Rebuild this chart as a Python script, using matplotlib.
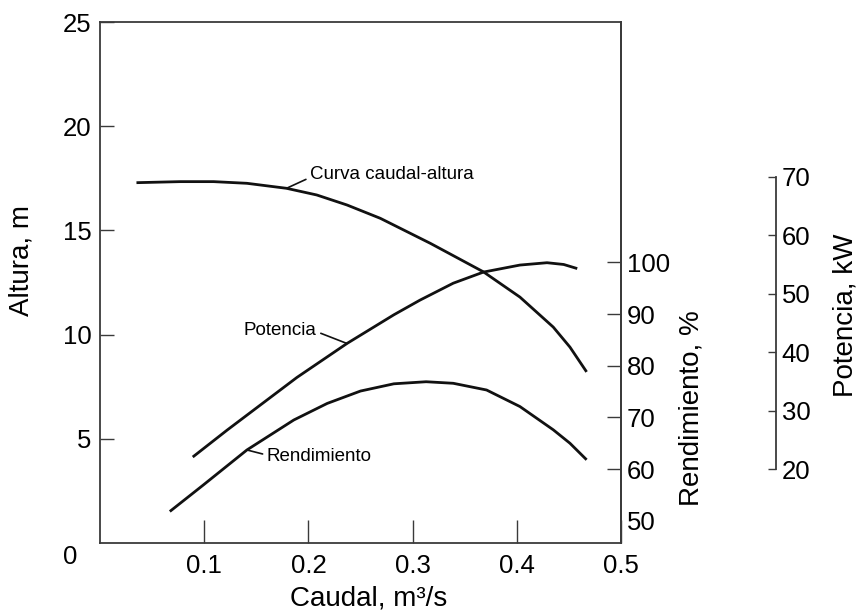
import numpy as np
from matplotlib import pyplot as plt

plt.rcParams['font.family'] = ['Liberation Sans', 'DejaVu Sans']

# Caudal (m3/s) vs altura (m)
q_head = [0.035, 0.077, 0.109, 0.141, 0.179, 0.208, 0.237, 0.269, 0.301, 0.317,
          0.336, 0.368, 0.403, 0.435, 0.451, 0.467]
h_head = [17.29, 17.34, 17.34, 17.26, 17.02, 16.70, 16.22, 15.58, 14.78, 14.38,
          13.87, 13.01, 11.80, 10.36, 9.40, 8.21]

# Caudal vs potencia (kW)
q_pot = [0.089, 0.122, 0.154, 0.189, 0.237, 0.282, 0.307, 0.339, 0.368, 0.403,
         0.429, 0.445, 0.458]
p_pot = [22.1, 26.7, 31.0, 35.7, 41.5, 46.4, 48.9, 51.8, 53.7, 54.9,
         55.3, 55.0, 54.3]

# Caudal vs rendimiento (%)
q_eff = [0.067, 0.099, 0.141, 0.186, 0.218, 0.250, 0.282, 0.313, 0.339, 0.371,
         0.403, 0.435, 0.451, 0.467]
e_eff = [51.8, 56.9, 63.7, 69.5, 72.7, 75.1, 76.5, 76.9, 76.6, 75.3,
         72.1, 67.6, 65.0, 61.8]

x_ticks = [0.1, 0.2, 0.3, 0.4, 0.5]
h_ticks = [5, 10, 15, 20, 25]
e_ticks = [50, 60, 70, 80, 90, 100]
p_ticks = [20, 30, 40, 50, 60, 70]

spine_col = '#3a3a3a'
line_col = '#111111'
tick_fs = 18.5
label_fs = 20
note_fs = 13.5

fig = plt.figure(figsize=(8.59, 6.12), dpi=100)
ax = fig.add_axes([100 / 859, 69 / 612, 521 / 859, 521 / 612])

ax.plot(q_head, h_head, color=line_col, lw=2.0, solid_capstyle='butt')
ax.set_xlim(0, 0.5)
ax.set_ylim(0, 25)
ax.set_xticks(x_ticks)
ax.set_xticklabels(['0.1', '0.2', '0.3', '0.4', '0.5'])
ax.set_yticks(h_ticks)
ax.tick_params(axis='x', direction='in', length=16.5, width=1.0, color=spine_col,
               labelsize=tick_fs, pad=8)
ax.tick_params(axis='y', direction='in', length=10, width=1.0, color=spine_col,
               labelsize=tick_fs, pad=6)
for s in ax.spines.values():
    s.set_color(spine_col)
    s.set_linewidth(1.3)

ax.set_xlabel('Caudal, m³/s', fontsize=label_fs, va='center')
ax.xaxis.set_label_coords(0.516, -0.1056)
ax.set_ylabel('Altura, m', fontsize=label_fs, va='center')
ax.yaxis.set_label_coords(-0.150, 0.543)
fig.text(70 / 859, 1 - 557 / 612, '0', fontsize=tick_fs, ha='center', va='center')

# Rendimiento axis on right spine of main box
ax_r = ax.twinx()
ax_r.plot(q_eff, e_eff, color=line_col, lw=2.0, solid_capstyle='butt')
ax_r.set_ylim(45.7, 146.5)
ax_r.set_yticks(e_ticks)
ax_r.tick_params(axis='y', direction='in', length=9.8, width=1.0, color=spine_col,
                 labelsize=tick_fs, pad=4.3)
ax_r.yaxis.get_major_ticks()[0].tick2line.set_visible(False)
for side in ['top', 'left', 'bottom']:
    ax_r.spines[side].set_visible(False)
ax_r.spines['right'].set_color(spine_col)
ax_r.spines['right'].set_linewidth(1.3)
ax_r.set_ylabel('Rendimiento, %', fontsize=label_fs, va='center')
ax_r.yaxis.set_label_coords(1.136, 0.259)

# Potencia axis, detached
ax_p = ax.twinx()
ax_p.plot(q_pot, p_pot, color=line_col, lw=2.0, solid_capstyle='butt')
ax_p.set_ylim(7.41, 96.43)
ax_p.set_yticks(p_ticks)
ax_p.spines['right'].set_position(('axes', 1.297))
ax_p.spines['right'].set_bounds(20, 70)
ax_p.spines['right'].set_color(spine_col)
ax_p.spines['right'].set_linewidth(1.3)
for side in ['top', 'left', 'bottom']:
    ax_p.spines[side].set_visible(False)
ax_p.tick_params(axis='y', direction='in', length=5.8, width=1.0, color=spine_col,
                 labelsize=tick_fs, pad=4.3)
ax_p.set_ylabel('Potencia, kW', fontsize=label_fs, va='center')
ax_p.yaxis.set_label_coords(1.430, 0.4376)

# Curve labels with leader lines
lead = dict(arrowstyle='-', color=line_col, lw=1.2, shrinkA=1, shrinkB=0)
ax.annotate('Curva caudal-altura', xy=(q_head[4], h_head[4]), xytext=(0.2015, 17.66),
            fontsize=note_fs, ha='left', va='center',
            arrowprops=dict(relpos=(0, 0.35), **lead))
ax_p.annotate('Potencia', xy=(q_pot[4], p_pot[4]), xytext=(0.208, 10.22),
              textcoords=ax.transData, fontsize=note_fs, ha='right', va='center',
              arrowprops=dict(relpos=(1, 0.4), **lead))
ax_r.annotate('Rendimiento', xy=(q_eff[2], e_eff[2]), xytext=(0.160, 4.14),
              textcoords=ax.transData, fontsize=note_fs, ha='left', va='center',
              arrowprops=dict(relpos=(0, 0.6), **lead))

plt.savefig('out.png', dpi=100)
